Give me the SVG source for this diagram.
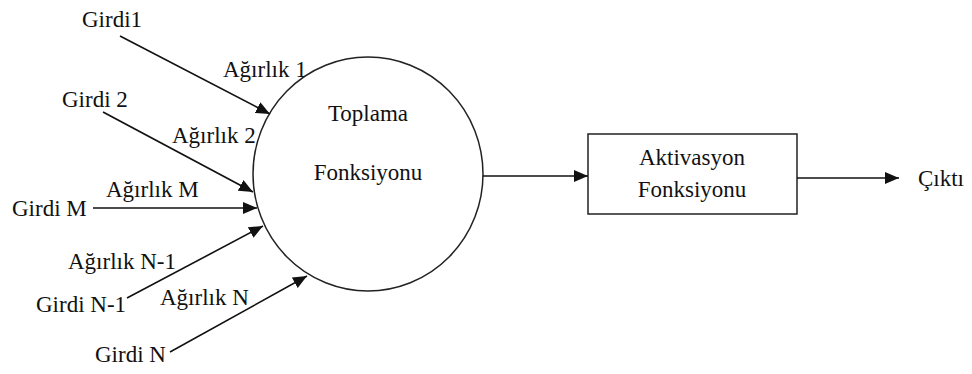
<svg xmlns="http://www.w3.org/2000/svg" width="972" height="374" viewBox="0 0 972 374">
  <style>
    text { font-family: 'Liberation Serif', 'Times New Roman', Times, 'DejaVu Serif', serif; font-size: 23px; fill: #111; }
    .mid { text-anchor: middle; }
    .edge { stroke: #111; stroke-width: 1.6; fill: none; marker-end: url(#head); }
    .shape { stroke: #222; stroke-width: 1.5; fill: #fff; }
  </style>
  <defs>
    <marker id="head" viewBox="0 0 14 12" refX="14" refY="6" markerWidth="14" markerHeight="12" markerUnits="userSpaceOnUse" orient="auto">
      <path d="M0,0 L14,6 L0,12 Z" fill="#111"/>
    </marker>
  </defs>

  <!-- summation node -->
  <g id="toplama" font-family="Liberation Serif, serif">
    <ellipse class="shape" cx="368" cy="174" rx="115" ry="117"/>
    <text class="mid" x="368" y="121">Toplama</text>
    <text class="mid" x="368" y="180">Fonksiyonu</text>
  </g>

  <!-- activation node -->
  <g id="aktivasyon">
    <rect class="shape" x="588" y="134" width="209" height="80"/>
    <text class="mid" x="692" y="165">Aktivasyon</text>
    <text class="mid" x="692" y="197">Fonksiyonu</text>
  </g>

  <!-- inputs -->
  <g id="girdi1"><text x="82" y="27">Girdi1</text></g>
  <g id="girdi2"><text x="62" y="107">Girdi 2</text></g>
  <g id="girdiM"><text x="12" y="216">Girdi M</text></g>
  <g id="girdiN1"><text x="36" y="312">Girdi N-1</text></g>
  <g id="girdiN"><text x="95" y="362">Girdi N</text></g>

  <!-- output -->
  <g id="cikti"><text x="918" y="186">Çıktı</text></g>

  <!-- connectors with weight labels -->
  <g id="connectors">
    <line class="edge" x1="120" y1="36" x2="270" y2="114"/>
    <line class="edge" x1="103" y1="112" x2="253" y2="192"/>
    <line class="edge" x1="93" y1="208" x2="257" y2="208"/>
    <line class="edge" x1="127" y1="298" x2="263" y2="226"/>
    <line class="edge" x1="170" y1="352" x2="307" y2="276"/>
    <line class="edge" x1="483" y1="176" x2="588" y2="176"/>
    <line class="edge" x1="797" y1="178" x2="899" y2="178"/>

    <text x="223" y="77">Ağırlık 1</text>
    <text x="172" y="143">Ağırlık 2</text>
    <text x="106" y="197">Ağırlık M</text>
    <text x="68" y="269">Ağırlık N-1</text>
    <text x="160" y="305">Ağırlık N</text>
  </g>
</svg>
